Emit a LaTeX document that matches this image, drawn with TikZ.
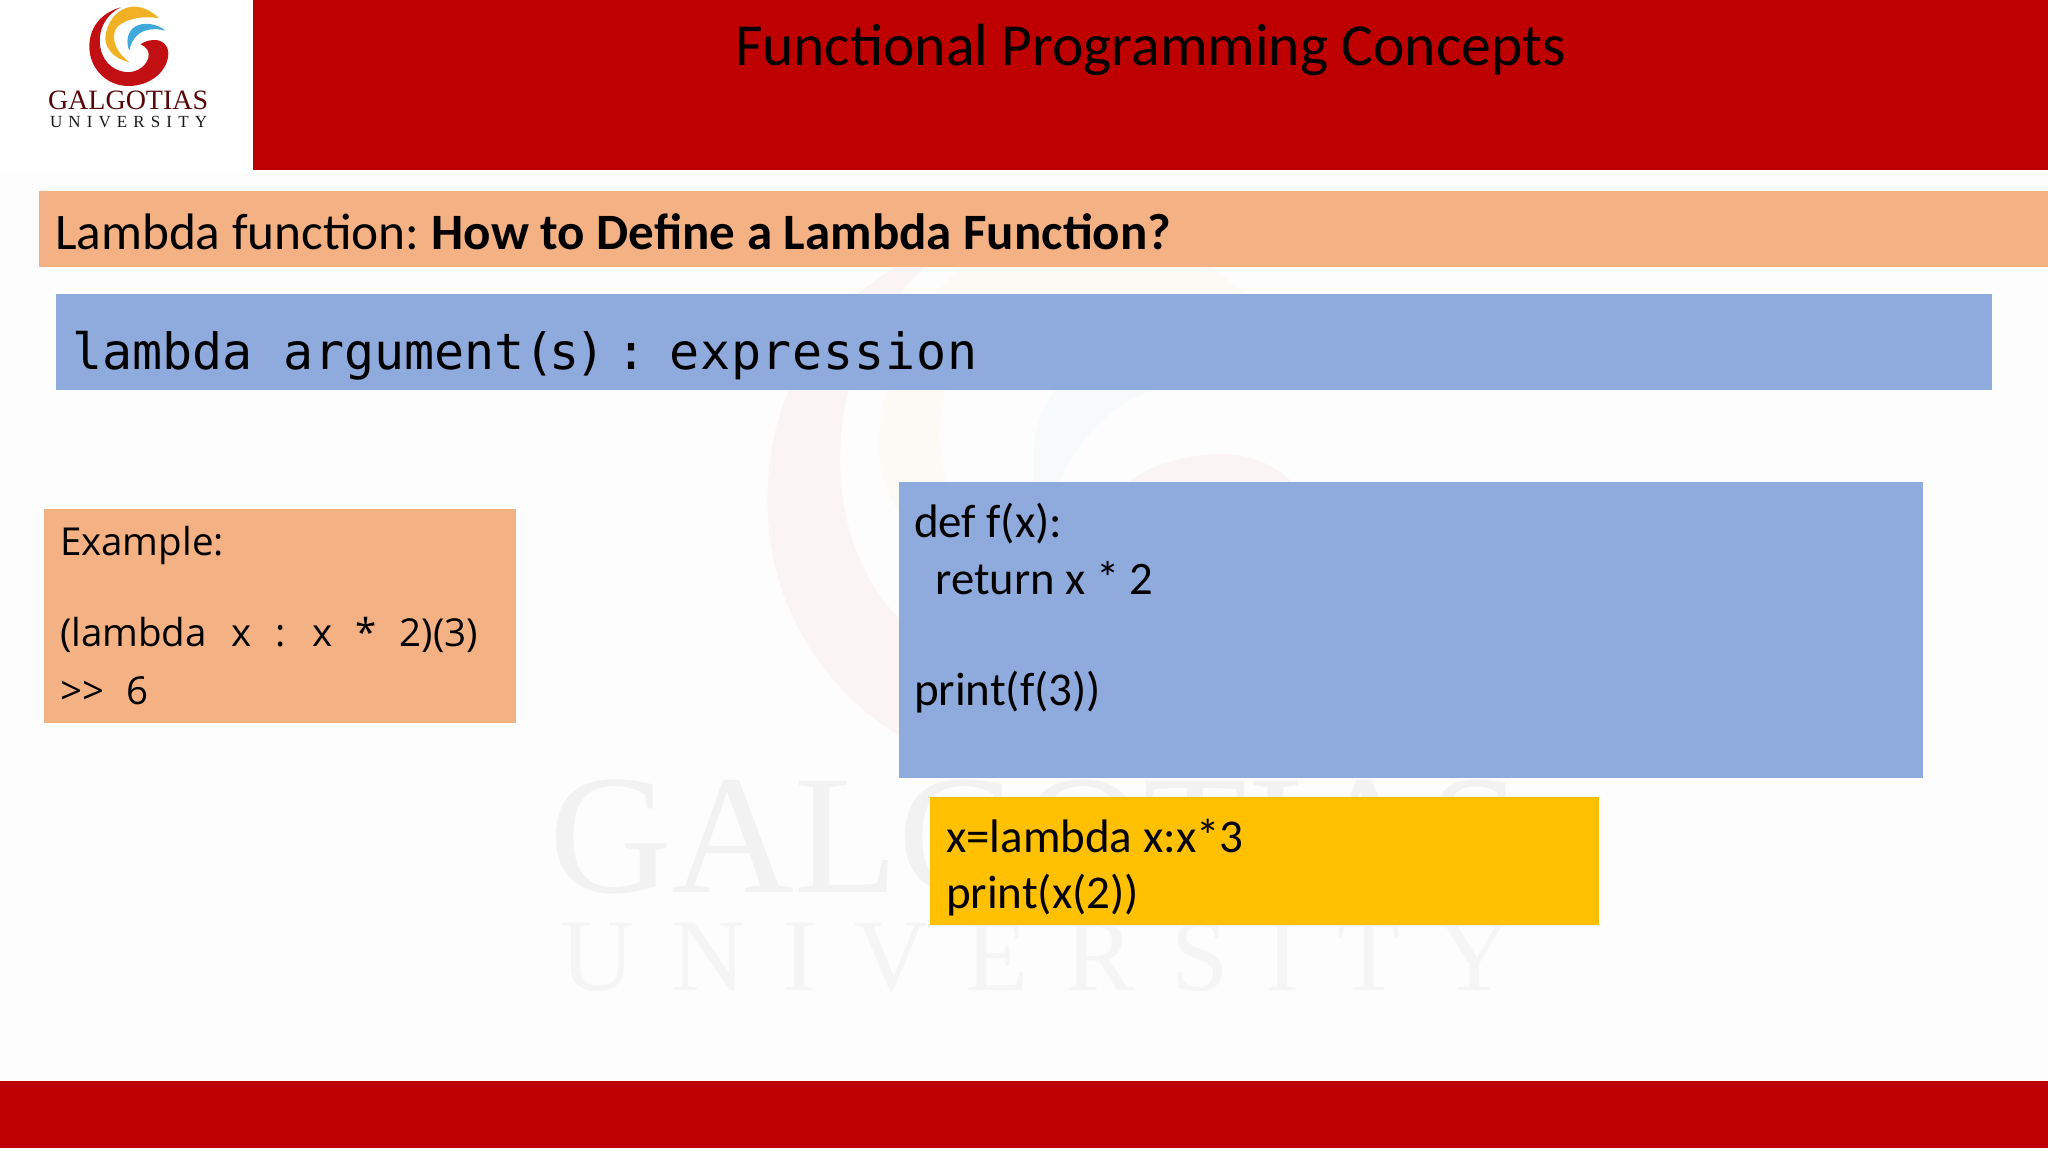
\documentclass[tikz,border=0pt]{standalone}
\usepackage{fontspec}
\setmainfont{Carlito}
\newfontfamily\monof{DejaVu Sans Mono}
\newfontfamily\opensans{Open Sans}
\newfontfamily\serifname{Liberation Serif}
\newfontfamily\serifspaced[LetterSpace=36]{Liberation Serif}
\definecolor{slidered}{HTML}{BF0000}
\definecolor{peach}{HTML}{F4B183}
\definecolor{cornblue}{HTML}{8FAADC}
\definecolor{amberbox}{HTML}{FFC000}
\definecolor{paper}{HTML}{FDFDFD}
\definecolor{logored}{HTML}{C20F14}
\definecolor{logogold}{HTML}{F0B124}
\definecolor{logoblue}{HTML}{3FA9DC}
\newcommand{\logoswirl}{%
  \fill[logored] (362,22) .. controls (300,40) and (268,85) .. (268,140) .. controls (268,205) and (320,258) .. (385,258) .. controls (455,258) and (505,210) .. (505,160) .. controls (505,135) and (485,118) .. (460,120) .. controls (445,121) and (432,125) .. (422,133) .. controls (440,140) and (450,155) .. (445,175) .. controls (435,205) and (400,222) .. (370,215) .. controls (320,205) and (295,160) .. (300,110) .. controls (303,75) and (325,40) .. (362,22) -- cycle;
  \fill[logogold] (478,55) .. controls (450,28) and (420,18) .. (395,20) .. controls (350,25) and (318,70) .. (316,115) .. controls (316,150) and (350,180) .. (388,186) .. controls (352,160) and (335,125) .. (345,92) .. controls (360,58) and (430,45) .. (478,55) -- cycle;
  \fill[logoblue] (497,92) .. controls (470,70) and (430,65) .. (405,80) .. controls (380,95) and (378,130) .. (388,152) .. controls (392,125) and (410,100) .. (435,92) .. controls (455,85) and (478,87) .. (497,92) -- cycle;
}
\tikzset{
  panel/.style={inner sep=0pt,outer sep=0pt,anchor=north west,fill=#1},
  line/.style={inner sep=0pt,outer sep=0pt,anchor=base west,text=black},
  body/.style={font=\fontsize{47}{50}\selectfont},
  sample/.style={font=\fontsize{38.5}{40}\opensans},
}
\begin{document}
\begin{tikzpicture}[x=1pt,y=-1pt]
\useasboundingbox (0,0) rectangle (2048,1152);
\fill[white] (0,0) rectangle (2048,1152);
\fill[paper] (0,172) rectangle (2048,1081);
% watermark
\begin{scope}[opacity=.035]
  \begin{scope}[shift={(145.6,176)},x=2.32pt,y=-2.32pt]
    \logoswirl
  \end{scope}
\end{scope}
\node[line,text=black!5] (wmname) at (549,892) {\fontsize{170}{170}\serifname GALGOTIAS};
\node[line,text=black!4] (wmuni) at (560,990) {\fontsize{103}{103}\serifspaced UNIVERSITY};
% bands
\node[panel=slidered,minimum width=1795pt,minimum height=170pt] (topband) at (253,0) {};
\node[panel=slidered,minimum width=2048pt,minimum height=67pt] (botband) at (0,1081) {};
\node[line,font=\fontsize{59.6}{60}\selectfont] (title) at (735,65) {Functional Programming Concepts};
% logo
\begin{scope}[shift={(0,0)},x=.3333pt,y=-.3333pt]
  \logoswirl
\end{scope}
\node[line,text=black!55!logored] (logoname) at (48,109) {\fontsize{28}{28}\serifname GALGOTIAS};
\node[line,text=black!90] (logouni) at (50,127) {\fontsize{17}{17}\serifspaced UNIVERSITY};
% panels
\node[panel=peach,minimum width=2009pt,minimum height=76pt] (headbar) at (39,191) {};
\node[panel=cornblue,minimum width=1936pt,minimum height=96pt] (syntaxbar) at (56,294) {};
\node[panel=peach,minimum width=472pt,minimum height=214pt] (examplebox) at (44,509) {};
\node[panel=cornblue,minimum width=1024pt,minimum height=296pt] (defbox) at (899,482) {};
\node[panel=amberbox,minimum width=669pt,minimum height=127.5pt] (lambdabox) at (930,797) {};
% texts
\node[line,font=\fontsize{51}{53}\selectfont] (headtext) at (55,249.5) {{\fontsize{51.3}{53}\selectfont Lambda function:}\hspace{-3.5pt} \textbf{How to Define a Lambda Function?}};
\node[line,font=\fontsize{50}{52}\monof] (syntaxtext) at (72,369.5) {lambda\hspace{31.4pt}argument(\hspace{-5pt}s\hspace{-5pt})\hspace{11pt}:\hspace{23pt}{\addfontfeature{LetterSpace=1.6}expression}};
\node[line,sample] (ex1) at (60,555) {Example:};
\node[line,sample] (ex2) at (60,646.7) {(lambda\hspace{25pt}x\hspace{23pt}:\hspace{27pt}x\hspace{22.5pt}*\hspace{23.5pt}2)(3)};
\node[line,sample] (ex3) at (60,704.5) {>{}>\hspace{22.5pt}6};
\node[line,body] (def1) at (914,537) {def f(x):};
\node[line,body,font=\fontsize{46.6}{50}\selectfont] (def2) at (935.5,594) {return x * 2};
\node[line,body] (def3) at (914,705) {print(f(3))};
\node[line,body] (lam1) at (946,852) {x=lambda x:x*3};
\node[line,body] (lam2) at (946,908) {print(x(2))};
\end{tikzpicture}
\end{document}
